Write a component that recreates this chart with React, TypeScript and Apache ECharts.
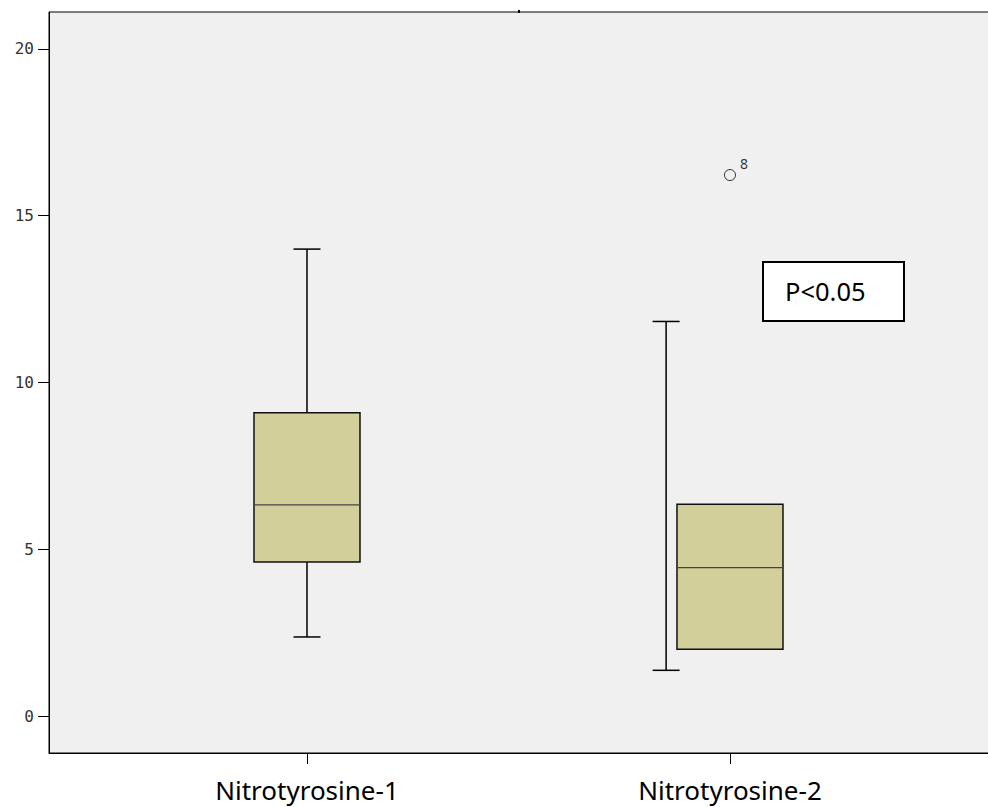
import React, { useEffect, useRef } from "react";
import * as echarts from "echarts";

const categories = ["Nitrotyrosine-1", "Nitrotyrosine-2"];
const positions = [1, 2];
const whiskerPositions = [1, 1.849];
const minValues = [2.37, 1.37];
const q1Values = [4.62, 2.0];
const medianValues = [6.33, 4.45];
const q3Values = [9.09, 6.35];
const maxValues = [14.0, 11.83];
const outlierPositions = [2];
const outlierValues = [16.22];
const outlierLabels = ["8"];
const yTicks = [0, 5, 10, 15, 20];
const annotation = "P<0.05";

export default function App() {
  const ref = useRef<HTMLDivElement>(null);
  useEffect(() => {
    if (!ref.current) return;
    const chart = echarts.init(ref.current, null, { renderer: "svg" });
    const boxData = positions.map((p, i) => [
      p,
      whiskerPositions[i],
      minValues[i],
      q1Values[i],
      medianValues[i],
      q3Values[i],
      maxValues[i],
    ]);
    const outlierData = outlierPositions.map((p, i) => ({
      value: [p, outlierValues[i]],
      name: outlierLabels[i],
    }));
    const option: any = {
      animation: false,
      backgroundColor: "#ffffff",
      grid: {
        left: 49,
        top: 12,
        right: -5,
        bottom: 54,
        show: true,
        backgroundColor: "#f0f0f0",
        borderColor: "#000000",
        borderWidth: 1,
        outerBoundsMode: "none",
        containLabel: false,
      },
      xAxis: {
        type: "value",
        min: 0.3901,
        max: 2.6218,
        axisLine: { show: true, onZero: false, lineStyle: { color: "#000", width: 1 } },
        axisTick: {
          show: true,
          customValues: positions,
          length: 11,
          lineStyle: { color: "#000", width: 1 },
        },
        axisLabel: {
          customValues: positions,
          formatter: (v: number) => {
            const idx = positions.findIndex((p) => Math.abs(p - v) < 1e-6);
            return idx >= 0 ? categories[idx] : "";
          },
          fontFamily: "Noto Sans",
          fontSize: 26,
          color: "#000",
          margin: 24,
        },
        splitLine: { show: false },
      },
      yAxis: {
        type: "value",
        min: -1.109,
        max: 21.109,
        axisLine: { show: true, onZero: false, lineStyle: { color: "#000", width: 1 } },
        axisTick: {
          show: true,
          customValues: yTicks,
          length: 11,
          lineStyle: { color: "#000", width: 1 },
        },
        axisLabel: {
          customValues: yTicks,
          fontFamily: "DejaVu Sans Mono",
          fontSize: 16,
          color: "#333",
          margin: 15,
        },
        splitLine: { show: false },
      },
      series: [
        {
          type: "custom",
          data: boxData,
          encode: { x: [0, 1], y: [2, 3, 4, 5, 6] },
          renderItem: (params: any, api: any) => {
            const x = api.value(0);
            const wx = api.value(1);
            const mn = api.value(2);
            const q1 = api.value(3);
            const md = api.value(4);
            const q3 = api.value(5);
            const mx = api.value(6);
            const pMin = api.coord([wx, mn]);
            const pMax = api.coord([wx, mx]);
            const pQ1 = api.coord([x, q1]);
            const pQ3 = api.coord([x, q3]);
            const pMd = api.coord([x, md]);
            const half = 53;
            const cap = 13.5;
            const ls = { stroke: "#000", lineWidth: 1.5 };
            return {
              type: "group",
              children: [
                {
                  type: "line",
                  shape: { x1: pMax[0], y1: pMax[1], x2: pMin[0], y2: pMin[1] },
                  style: ls,
                },
                {
                  type: "line",
                  shape: { x1: pMax[0] - cap, y1: pMax[1], x2: pMax[0] + cap, y2: pMax[1] },
                  style: ls,
                },
                {
                  type: "line",
                  shape: { x1: pMin[0] - cap, y1: pMin[1], x2: pMin[0] + cap, y2: pMin[1] },
                  style: ls,
                },
                {
                  type: "rect",
                  shape: {
                    x: pQ3[0] - half,
                    y: pQ3[1],
                    width: half * 2,
                    height: pQ1[1] - pQ3[1],
                  },
                  style: { fill: "#d3cf9a", stroke: "#111", lineWidth: 1.5 },
                },
                {
                  type: "line",
                  shape: { x1: pMd[0] - half, y1: pMd[1], x2: pMd[0] + half, y2: pMd[1] },
                  style: { stroke: "#444", lineWidth: 1.2 },
                },
              ],
            };
          },
          z: 2,
        },
        {
          type: "scatter",
          data: outlierData,
          symbol: "circle",
          symbolSize: 11,
          itemStyle: { color: "rgba(0,0,0,0)", borderColor: "#000", borderWidth: 1 },
          label: {
            show: true,
            formatter: (p: any) => p.name,
            position: [16, -13],
            align: "left",
            verticalAlign: "top",
            fontFamily: "Noto Sans",
            fontSize: 14,
            color: "#000",
          },
          z: 3,
        },
      ],
      graphic: [
        {
          type: "rect",
          left: 518,
          top: 10,
          shape: { width: 2, height: 3 },
          style: { fill: "#000" },
          silent: true,
        },
        {
          type: "group",
          left: 762,
          top: 261,
          children: [
            {
              type: "rect",
              shape: { x: 0, y: 0, width: 141, height: 59 },
              style: { fill: "#ffffff", stroke: "#000", lineWidth: 2 },
            },
            {
              type: "text",
              x: 22,
              y: 29,
              style: {
                text: annotation,
                font: "25.5px 'Noto Sans'",
                fill: "#000",
                verticalAlign: "middle",
                align: "left",
              },
            },
          ],
        },
      ],
    };
    chart.setOption(option);
    return () => chart.dispose();
  }, []);
  return (
    <div
      ref={ref}
      style={{ position: "absolute", left: 0, top: 0, width: 988, height: 807 }}
    />
  );
}
